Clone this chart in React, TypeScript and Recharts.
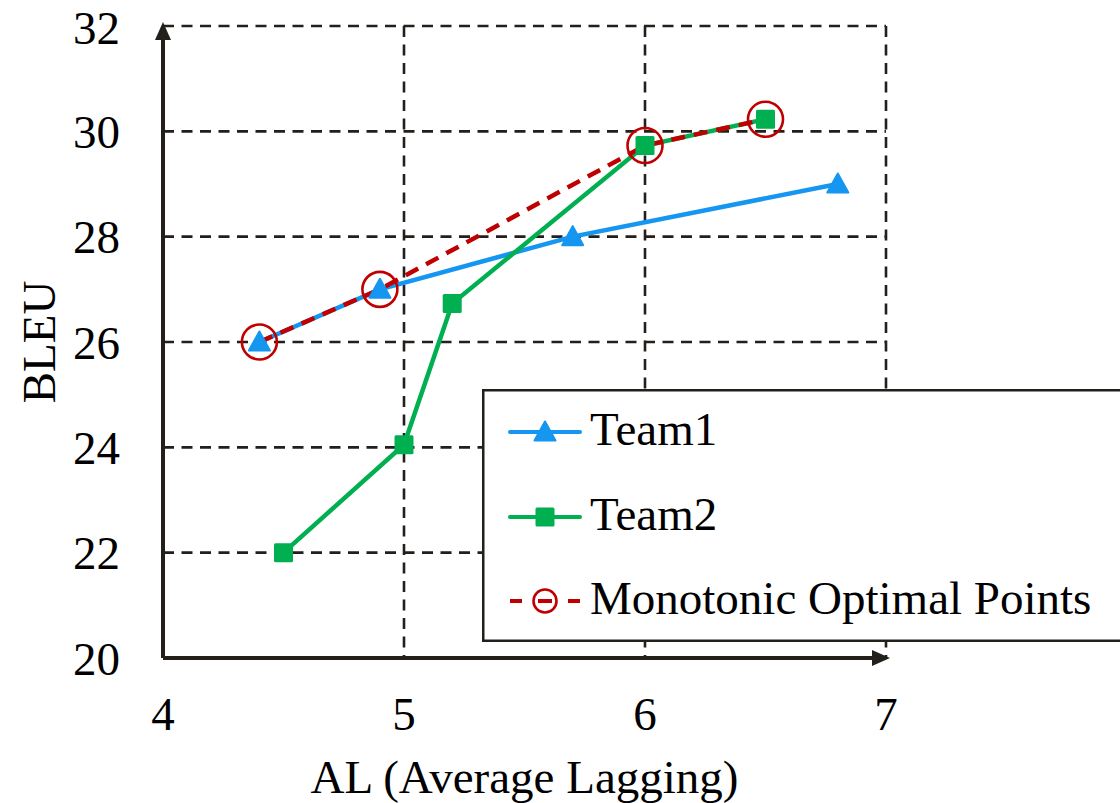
import React from 'react';
import { LineChart, Line, XAxis, YAxis, CartesianGrid, Legend } from 'recharts';

// AL (Average Lagging) vs. BLEU for the two systems
const team1AL = [4.4, 4.9, 5.7, 6.8];
const team1BLEU = [26, 27, 28, 29];

const team2AL = [4.5, 5.0, 5.2, 6.0, 6.5];
const team2BLEU = [22, 24.05, 26.73, 29.73, 30.23];

// Points on the monotonic (Pareto) frontier
const optimalAL = [4.4, 4.9, 6.0, 6.5];
const optimalBLEU = [26, 27, 29.73, 30.23];

const xTicks = [4, 5, 6, 7];
const yTicks = [20, 22, 24, 26, 28, 30, 32];

const legendLabels = ['Team1', 'Team2', 'Monotonic Optimal Points'];

const team1 = team1AL.map((al, i) => ({ al, bleu: team1BLEU[i] }));
const team2 = team2AL.map((al, i) => ({ al, bleu: team2BLEU[i] }));
const optimal = optimalAL.map((al, i) => ({ al, bleu: optimalBLEU[i] }));

const FONT = '"Liberation Serif", "Times New Roman", serif';
const BLUE = '#1596f0';
const GREEN = '#00b050';
const RED = '#c00000';
const INK = '#231f1a';

const triangle = (cx: number, cy: number, color: string, key?: string) => (
  <path
    key={key}
    d={`M${cx},${cy - 10.5} L${cx + 10.5},${cy + 8.5} L${cx - 10.5},${cy + 8.5} Z`}
    fill={color}
    stroke={color}
    strokeWidth={2}
    strokeLinejoin="round"
  />
);

const square = (cx: number, cy: number, color: string, key?: string) => (
  <rect key={key} x={cx - 9.5} y={cy - 9.5} width={19} height={19} rx={1.5} fill={color} />
);

const ring = (cx: number, cy: number, r: number, key?: string) => (
  <circle key={key} cx={cx} cy={cy} r={r} fill="none" stroke={RED} strokeWidth={2.6} />
);

const TriangleDot = (props: any) => triangle(props.cx, props.cy, BLUE, `t1-${props.index}`);
const SquareDot = (props: any) => square(props.cx, props.cy, GREEN, `t2-${props.index}`);
const RingDot = (props: any) => ring(props.cx, props.cy, 17.5, `op-${props.index}`);

const LegendBox = () => {
  const rows = [43, 128, 212];
  const x0 = 28;
  const x1 = 98;
  const mid = (x0 + x1) / 2;
  const textStyle = { fontFamily: FONT, fontSize: 47, fill: '#000' } as const;
  return (
    <svg width={660} height={253} style={{ display: 'block' }}>
      <rect x={1.25} y={1.25} width={700} height={250.5} fill="#fff" stroke={INK} strokeWidth={2.5} />
      <line x1={x0} x2={x1} y1={rows[0]} y2={rows[0]} stroke={BLUE} strokeWidth={4} strokeLinecap="round" />
      {triangle(mid, rows[0], BLUE)}
      <text x={108} y={rows[0] + 13} {...textStyle}>{legendLabels[0]}</text>

      <line x1={x0} x2={x1} y1={rows[1]} y2={rows[1]} stroke={GREEN} strokeWidth={4} strokeLinecap="round" />
      {square(mid, rows[1], GREEN)}
      <text x={108} y={rows[1] + 13} {...textStyle}>{legendLabels[1]}</text>

      <line x1={x0} x2={x0 + 12} y1={rows[2]} y2={rows[2]} stroke={RED} strokeWidth={4} />
      <line x1={mid - 7} x2={mid + 7} y1={rows[2]} y2={rows[2]} stroke={RED} strokeWidth={4} />
      <line x1={x1 - 12} x2={x1} y1={rows[2]} y2={rows[2]} stroke={RED} strokeWidth={4} />
      {ring(mid, rows[2], 11.5)}
      <text x={108} y={rows[2] + 13} {...textStyle}>{legendLabels[2]}</text>
    </svg>
  );
};

const XLabel = (props: any) => {
  const vb = props.viewBox;
  return (
    <text x={vb.x + vb.width / 2} y={793} textAnchor="middle" fontFamily={FONT} fontSize={47} fill="#000">
      AL (Average Lagging)
    </text>
  );
};

const YLabel = (props: any) => {
  const vb = props.viewBox;
  const cy = vb.y + vb.height / 2;
  return (
    <text
      x={55}
      y={cy}
      textAnchor="middle"
      transform={`rotate(-90, 55, ${cy})`}
      fontFamily={FONT}
      fontSize={47}
      fill="#000"
    >
      BLEU
    </text>
  );
};

export default function App() {
  return (
    <div
      style={{
        position: 'absolute',
        left: 0,
        top: 0,
        width: 1120,
        height: 803,
        overflow: 'hidden',
        background: '#fff',
      }}
    >
      <LineChart width={1120} height={803} margin={{ top: 26, right: 234, bottom: 0, left: 0 }}>
        <defs>
          <marker
            id="axisArrow"
            markerUnits="userSpaceOnUse"
            markerWidth={18}
            markerHeight={16}
            refX={14}
            refY={8}
            orient="auto-start-reverse"
          >
            <path d="M0,0 L18,8 L0,16 Z" fill={INK} />
          </marker>
        </defs>
        <CartesianGrid stroke={INK} strokeWidth={2.6} strokeDasharray="11 7.5" />
        <XAxis
          type="number"
          dataKey="al"
          domain={[4, 7]}
          ticks={xTicks}
          allowDuplicatedCategory={false}
          height={145}
          tickSize={0}
          tickMargin={39}
          tickLine={false}
          axisLine={{ stroke: INK, strokeWidth: 4, markerEnd: 'url(#axisArrow)' }}
          tick={{ fontFamily: FONT, fontSize: 47, fill: '#000' }}
          label={<XLabel />}
        />
        <YAxis
          type="number"
          dataKey="bleu"
          domain={[20, 32]}
          ticks={yTicks}
          width={163}
          tickSize={0}
          tickMargin={43}
          tickLine={false}
          axisLine={{ stroke: INK, strokeWidth: 4, markerStart: 'url(#axisArrow)' }}
          tick={{ fontFamily: FONT, fontSize: 47, fill: '#000' }}
          label={<YLabel />}
        />
        <Line
          data={team1}
          dataKey="bleu"
          name="Team1"
          stroke={BLUE}
          strokeWidth={4.5}
          dot={TriangleDot}
          activeDot={false}
          isAnimationActive={false}
        />
        <Line
          data={team2}
          dataKey="bleu"
          name="Team2"
          stroke={GREEN}
          strokeWidth={4.5}
          dot={SquareDot}
          activeDot={false}
          isAnimationActive={false}
        />
        <Line
          data={optimal}
          dataKey="bleu"
          name="Monotonic Optimal Points"
          stroke={RED}
          strokeWidth={4.5}
          strokeDasharray="14 9"
          dot={RingDot}
          activeDot={false}
          isAnimationActive={false}
        />
        <Legend
          layout="vertical"
          align="center"
          verticalAlign="middle"
          content={() => <LegendBox />}
          wrapperStyle={{ position: 'absolute', left: 482, top: 389, width: 660, height: 253, margin: 0 }}
        />
      </LineChart>
    </div>
  );
}
